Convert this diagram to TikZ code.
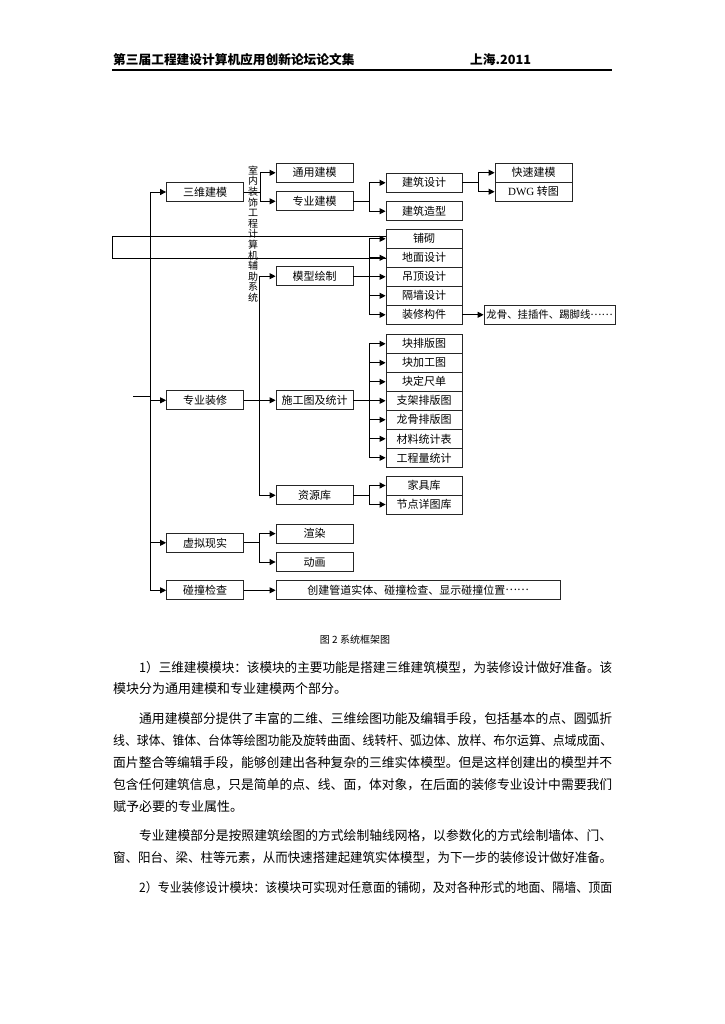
\documentclass[tikz,border=0pt]{standalone}
\usepackage{fontspec}
\usepackage{graphicx}
\usetikzlibrary{arrows.meta,positioning,calc}
\newfontfamily\cjk{Noto Sans CJK SC}
\newfontfamily\lat{Liberation Serif}
\newcommand{\fitline}[2]{\resizebox{#1pt}{\height}{#2}}
\newcommand{\dotsmid}{\raisebox{0.32em}{……}}
\tikzset{
  box/.style={draw=black!85, line width=0.8pt, minimum width=77pt, minimum height=19pt,
              inner sep=0pt, font=\cjk\fontsize{11}{12}\selectfont},
  stack/.style={box, minimum width=76pt},
  link/.style={line width=0.9pt, draw=black},
  arr/.style={link, -{Triangle[length=6pt,width=6pt]}},
  bodyline/.style={anchor=west, inner sep=0pt, font=\cjk\fontsize{13}{13}\selectfont},
  headline/.style={anchor=west, inner sep=0pt, font=\cjk\bfseries\fontsize{12.7}{13}\selectfont}
}
\begin{document}
\begin{tikzpicture}[x=1pt,y=-1pt]
  \fill[white] (0,0) rectangle (724,1024);
  \useasboundingbox (0,0) rectangle (724,1024);

  \node[headline] (title) at (113,60) {第三届工程建设计算机应用创新论坛论文集};
  \node[headline] (place) at (470,60) {上海.2011};
  \draw[line width=1.2pt] (112,70) -- (612,70);

  \node[box] (sanwei)     at (205,192)   {三维建模};
  \node[box] (zhuangxiu)  at (205,400.3) {专业装修};
  \node[box] (xuni)       at (205,542.8) {虚拟现实};
  \node[box] (pengzhuang) at (205,590.3) {碰撞检查};

  \node[box] (tongyong) at (314.5,172.8) {通用建模};
  \node[box] (zhuanye)  at (314.5,201.3) {专业建模};
  \node[box] (moxing)   at (314.5,276.2) {模型绘制};
  \node[box] (shigong)  at (314.5,400.3) {施工图及统计};
  \node[box] (ziyuan)   at (314.5,495.3) {资源库};
  \node[box] (xuanran)  at (314.5,533.6) {渲染};
  \node[box] (donghua)  at (314.5,562)   {动画};
  \node[box, minimum width=284pt] (pengbox) at (418,590.3) {创建管道实体、碰撞检查、显示碰撞位置\dotsmid};

  \node[stack] (jianzhu) at (424,182.8) {建筑设计};
  \node[stack] (zaoxing) at (424,211.2) {建筑造型};
  \node[box] (kuaisu) at (533.5,172.7) {快速建模};
  \node[box] (dwg)    at (533.5,191.7) {{\lat DWG} 转图};

  \node[stack] (pu)       at (424,238.8) {铺砌};
  \node[stack] (dimian)   at (424,257.8) {地面设计};
  \node[stack] (diaoding) at (424,276.8) {吊顶设计};
  \node[stack] (geqiang)  at (424,295.8) {隔墙设计};
  \node[stack] (goujian)  at (424,314.8) {装修构件};
  \node[box, minimum width=131pt, font=\cjk\fontsize{10.4}{12}\selectfont] (longgu) at (549.5,314.8) {龙骨、挂插件、踢脚线\dotsmid};

  \node[stack] (paiban)  at (424,343.8) {块排版图};
  \node[stack] (jiagong) at (424,362.8) {块加工图};
  \node[stack] (dingchi) at (424,381.8) {块定尺单};
  \node[stack] (zhijia)  at (424,400.8) {支架排版图};
  \node[stack] (longpai) at (424,419.8) {龙骨排版图};
  \node[stack] (cailiao) at (424,438.8) {材料统计表};
  \node[stack] (gongcheng) at (424,457.8) {工程量统计};

  \node[stack] (jiaju)  at (424,485.5) {家具库};
  \node[stack] (jiedian) at (424,504.5) {节点详图库};

  \node[inner sep=0pt, align=center, font=\cjk\fontsize{10}{10.6}\selectfont] (vtext) at (253,234)
    {室\\内\\装\\饰\\工\\程\\计\\算\\机\\辅\\助\\系\\统};

  \coordinate (entry) at (133,396);
  \coordinate (spine) at (150,396);
  \coordinate (loopT) at (112,236.5);
  \coordinate (loopB) at (112,258);

  \draw[link] (entry) -- (spine);
  \foreach \n in {sanwei,zhuangxiu,xuni,pengzhuang}
    \draw[arr] (spine) |- (\n.west);
  \foreach \n in {tongyong,zhuanye}
    \draw[arr] (sanwei.east) -- ++(16.5,0) |- (\n.west);
  \foreach \n in {jianzhu,zaoxing}
    \draw[arr] (zhuanye.east) -- ++(16.5,0) |- (\n.west);
  \foreach \n in {kuaisu,dwg}
    \draw[arr] (jianzhu.east) -- ++(16.5,0) |- (\n.west);
  \draw[arr] (zhuangxiu.east) -- (shigong.west);
  \foreach \n in {moxing,ziyuan}
    \draw[arr] (zhuangxiu.east) -- ++(16,0) |- (\n.west);
  \foreach \n in {pu,dimian,diaoding,geqiang,goujian}
    \draw[arr] (moxing.east) -- ++(16.5,0) |- (\n.west);
  \draw[arr] (goujian.east) -- (longgu.west);
  \foreach \n in {paiban,jiagong,dingchi,zhijia,longpai,cailiao,gongcheng}
    \draw[arr] (shigong.east) -- ++(16.5,0) |- (\n.west);
  \foreach \n in {jiaju,jiedian}
    \draw[arr] (ziyuan.east) -- ++(16.5,0) |- (\n.west);
  \foreach \n in {xuanran,donghua}
    \draw[arr] (xuni.east) -- ++(16,0) |- (\n.west);
  \draw[arr] (pengzhuang.east) -- (pengbox.west);
  \draw[link] (pu.west |- loopT) -- (loopT) -- (loopB) -- (dimian.west |- loopB);

  \node[inner sep=0pt, font=\cjk\fontsize{10}{12}\selectfont] (caption) at (355,640) {图 2 系统框架图};

  \node[bodyline] (p1a) at (139,668) {\fitline{473}{1）三维建模模块：该模块的主要功能是搭建三维建筑模型，为装修设计做好准备。该}};
  \node[bodyline] (p1b) at (113,689) {模块分为通用建模和专业建模两个部分。};
  \node[bodyline] (p2a) at (139,719) {\fitline{473}{通用建模部分提供了丰富的二维、三维绘图功能及编辑手段，包括基本的点、圆弧折}};
  \node[bodyline] (p2b) at (113,741) {\fitline{499}{线、球体、锥体、台体等绘图功能及旋转曲面、线转杆、弧边体、放样、布尔运算、点域成面、}};
  \node[bodyline] (p2c) at (113,763) {\fitline{499}{面片整合等编辑手段，能够创建出各种复杂的三维实体模型。但是这样创建出的模型并不}};
  \node[bodyline] (p2d) at (113,785) {\fitline{499}{包含任何建筑信息，只是简单的点、线、面，体对象，在后面的装修专业设计中需要我们}};
  \node[bodyline] (p2e) at (113,807) {赋予必要的专业属性。};
  \node[bodyline] (p3a) at (139,836) {\fitline{473}{专业建模部分是按照建筑绘图的方式绘制轴线网格，以参数化的方式绘制墙体、门、}};
  \node[bodyline] (p3b) at (113,858) {\fitline{499}{窗、阳台、梁、柱等元素，从而快速搭建起建筑实体模型，为下一步的装修设计做好准备。}};
  \node[bodyline] (p4a) at (139,888) {\fitline{473}{2）专业装修设计模块：该模块可实现对任意面的铺砌，及对各种形式的地面、隔墙、顶面}};
\end{tikzpicture}
\end{document}
